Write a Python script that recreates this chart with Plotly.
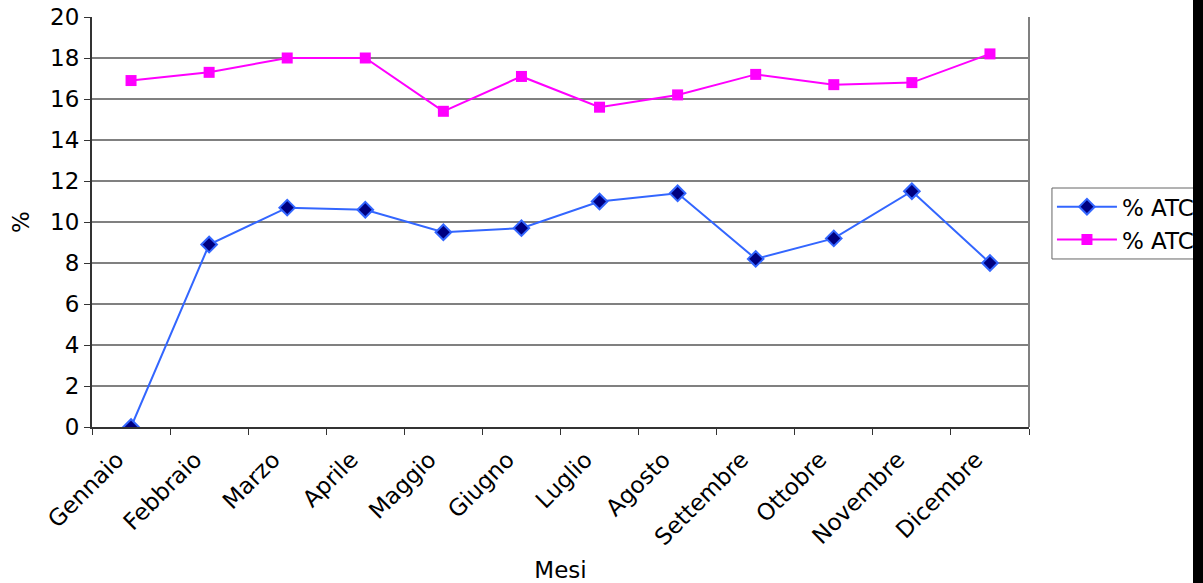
import plotly.graph_objects as go

# Monthly percentages
mesi = ["Gennaio", "Febbraio", "Marzo", "Aprile", "Maggio", "Giugno",
        "Luglio", "Agosto", "Settembre", "Ottobre", "Novembre", "Dicembre"]
serie_blu = [0.0, 8.9, 10.7, 10.6, 9.5, 9.7, 11.0, 11.4, 8.2, 9.2, 11.5, 8.0]
serie_rosa = [16.9, 17.3, 18.0, 18.0, 15.4, 17.1, 15.6, 16.2, 17.2, 16.7, 16.8, 18.2]
nome_blu = "% ATC"
nome_rosa = "% ATC"
y_ticks = list(range(0, 21, 2))

FONT = "DejaVu Sans, Verdana, sans-serif"
FS = 23

fig = go.Figure()
fig.add_trace(go.Scatter(
    x=mesi, y=serie_blu, name=nome_blu, mode="lines+markers",
    line=dict(color="#3366FF", width=2),
    marker=dict(symbol="diamond", size=12, color="#000080",
                line=dict(color="#3366FF", width=2)),
))
fig.add_trace(go.Scatter(
    x=mesi, y=serie_rosa, name=nome_rosa, mode="lines+markers",
    line=dict(color="#FF00FF", width=2),
    marker=dict(symbol="square", size=11, color="#FF00FF",
                line=dict(color="#FF00FF", width=0)),
))

fig.update_layout(
    width=1203, height=583,
    margin=dict(l=92, r=174, t=17, b=156, autoexpand=False),
    paper_bgcolor="white", plot_bgcolor="white",
    font=dict(family=FONT, size=FS, color="black"),
    showlegend=True,
    legend=dict(
        x=1.0245, y=0.497, xanchor="left", yanchor="middle",
        bgcolor="rgba(0,0,0,0)", borderwidth=0,
        font=dict(family=FONT, size=FS, color="black"),
        tracegroupgap=0, itemwidth=60,
    ),
    xaxis=dict(
        type="category", range=[-0.5, 11.5], automargin=False,
        tickson="boundaries", ticks="outside", ticklen=6, tickcolor="#333333",
        tickangle=-45, showgrid=False, zeroline=False,
        tickfont=dict(family=FONT, size=FS),
        ticklabelshift=-14, ticklabelstandoff=8,
        showline=True, linecolor="#333333", linewidth=2,
        title=dict(text="Mesi", font=dict(family=FONT, size=FS), standoff=14),
    ),
    yaxis=dict(
        range=[0, 20], tickvals=y_ticks, ticks="outside", ticklen=6,
        automargin=False, tickfont=dict(family=FONT, size=FS),
        tickcolor="#333333", showgrid=True, gridcolor="#808080", gridwidth=2,
        zeroline=False, showline=True, linecolor="#333333", linewidth=2,
        title=dict(text="%", font=dict(family=FONT, size=FS), standoff=14),
    ),
    shapes=[
        # right-hand frame edge of the plot area
        dict(type="line", xref="paper", yref="paper", x0=1, x1=1, y0=0, y1=1,
             line=dict(color="#808080", width=2), layer="above"),
        # legend frame, running on to the page edge
        dict(type="rect", xref="paper", yref="paper",
             x0=1.0245, x1=1.3, y0=0.4098, y1=0.5829,
             fillcolor="rgba(0,0,0,0)", line=dict(color="#666666", width=1),
             layer="above"),
        # dark strip at the right edge of the page
        dict(type="rect", xref="paper", yref="paper",
             x0=(1193 - 92) / 937, x1=1.3, y0=-1, y1=2,
             fillcolor="black", line=dict(width=0), layer="above"),
    ],
)

fig.write_html("out.html")
